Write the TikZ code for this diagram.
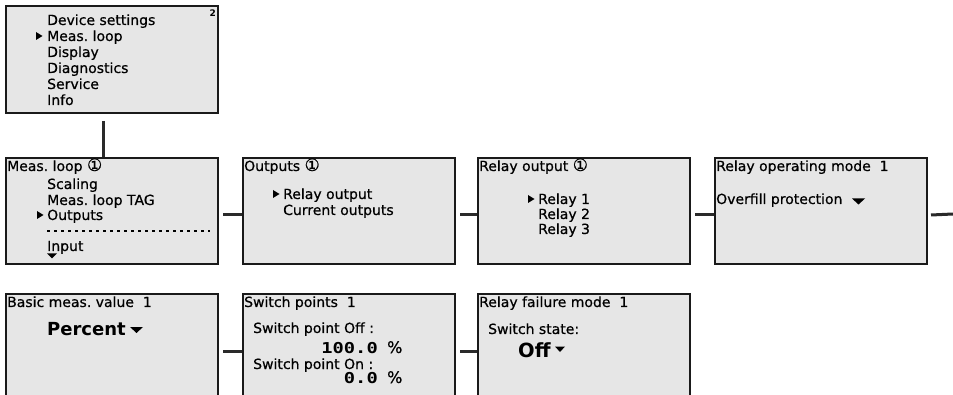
\documentclass[tikz,border=0pt]{standalone}
\usepackage{fontspec}
\setmainfont{DejaVu Sans}[UprightFeatures={FakeBold=0.6}]
\newfontfamily\lcdnum{DejaVu Sans Mono}[FakeStretch=1.25]
\definecolor{lcdbg}{HTML}{E6E6E6}
\definecolor{boxline}{HTML}{1A1A1A}
\definecolor{connc}{HTML}{2A2A2A}
\newcommand{\circone}{{\fontsize{17}{16}\selectfont ①}}
\begin{document}
\begin{tikzpicture}[x=1pt,y=-1pt,
  screen/.style={draw=boxline, fill=lcdbg, line width=2pt, anchor=north west,
    minimum width=212pt, minimum height=106pt, inner sep=0pt},
  txt/.style={anchor=base west, inner sep=0pt, font=\frenchspacing\fontsize{14}{16}\selectfont},
  big/.style={anchor=base west, inner sep=0pt, font=\bfseries\fontsize{18}{20}\selectfont},
  num/.style={anchor=base east, inner sep=0pt, font=\lcdnum\bfseries\fontsize{15}{17}\selectfont},
  conn/.style={draw=connc, line width=3pt},
  cursor/.style={fill=black}]
\useasboundingbox (0,0) rectangle (953,395);
\clip (0,0) rectangle (953,395);

% ---------- boxes ----------
\node[screen, minimum height=107pt] (menu) at (5,5) {};
\node[screen] (b2) at (5,157) {};
\node[screen] (b3) at (242,157) {};
\node[screen] (b4) at (477,157) {};
\node[screen] (b5) at (714,157) {};
\node[screen] (b6) at (5,293) {};
\node[screen] (b7) at (242,293) {};
\node[screen] (b8) at (477,293) {};

% ---------- connectors ----------
\coordinate (rowend) at (953,214);
\draw[conn] ([xshift=98pt,yshift=-7pt]menu.south west) -- ([xshift=98pt]b2.north west);
\draw[conn] ([shift={(4pt,-4pt)}]b2.east) -- ([yshift=-4pt]b3.west);
\draw[conn] ([shift={(4pt,-4pt)}]b3.east) -- ([yshift=-4pt]b4.west);
\draw[conn] ([shift={(4pt,-4pt)}]b4.east) -- ([yshift=-4pt]b5.west);
\draw[conn] ([shift={(3pt,-4pt)}]b5.east) -- (rowend);
\draw[conn] ([shift={(4pt,-4pt)}]b6.east) -- ([yshift=-4pt]b7.west);
\draw[conn] ([shift={(4pt,-4pt)}]b7.east) -- ([yshift=-4pt]b8.west);

% ---------- top menu ----------
\node[txt] (m1) at (47,25) {Device settings};
\fill[cursor] (36,32) -- (42.5,36) -- (36,40) -- cycle;
\node[txt] (m2) at (47,41) {Meas. loop};
\node[txt] (m3) at (47,57) {Display};
\node[txt] (m4) at (47,73) {Diagnostics};
\node[txt] (m5) at (47,89) {Service};
\node[txt] (m6) at (47,105) {Info};
\node[anchor=base west, inner sep=0pt, font=\bfseries\fontsize{9}{9}\selectfont] (mnum) at (209.5,17) {2};

% ---------- Meas. loop ----------
\node[txt] (a0) at (7,171) {Meas. loop \circone};
\node[txt] (a1) at (47,189) {Scaling};
\node[txt] (a2) at (47,205) {Meas. loop TAG};
\fill[cursor] (37,211) -- (43.5,215) -- (37,219) -- cycle;
\node[txt] (a3) at (47,220) {Outputs};
\draw[black, line width=2.5pt, dash pattern=on 2.5pt off 4.5pt] (47,231) -- (210,231);
\node[txt] (a4) at (47,251) {Input};
\fill[cursor] (47,253.5) -- (57,253.5) -- (52,258.5) -- cycle;

% ---------- Outputs ----------
\node[txt] (o0) at (244,171) {Outputs \circone};
\fill[cursor] (273,190) -- (279.5,194) -- (273,198) -- cycle;
\node[txt] (o1) at (283,199) {Relay output};
\node[txt] (o2) at (283,215) {Current outputs};

% ---------- Relay output ----------
\node[txt] (r0) at (479,171) {Relay output \circone};
\fill[cursor] (528,195) -- (534.5,199) -- (528,203) -- cycle;
\node[txt] (r1) at (538,204) {Relay 1};
\node[txt] (r2) at (538,219) {Relay 2};
\node[txt] (r3) at (538,234) {Relay 3};

% ---------- Relay operating mode ----------
\node[txt] (p0) at (716,171) {Relay operating mode\ \ 1};
\node[txt] (p1) at (716,204) {Overfill protection};
\fill[cursor] (852,198.5) -- (865,198.5) -- (858.5,204.5) -- cycle;

% ---------- Basic meas. value ----------
\node[txt] (v0) at (7,307) {Basic meas. value\ \ 1};
\node[big] (v1) at (47,335) {Percent};
\fill[cursor] (130,327) -- (143,327) -- (136.5,333) -- cycle;

% ---------- Switch points ----------
\node[txt] (s0) at (244,307) {Switch points\ \ 1};
\node[txt] (s1) at (253,333) {Switch point Off :};
\node[num] (s2) at (378,353) {100.0};
\node[txt, font=\fontsize{16}{16}\selectfont] (s3) at (387,353) {\%};
\node[txt] (s4) at (253,369) {Switch point On :};
\node[num] (s5) at (378,383) {0.0};
\node[txt, font=\fontsize{16}{16}\selectfont] (s6) at (387,383) {\%};

% ---------- Relay failure mode ----------
\node[txt] (f0) at (479,307) {Relay failure mode\ \ 1};
\node[txt] (f1) at (488,334) {Switch state:};
\node[big, font=\bfseries\fontsize{19.5}{20}\selectfont] (f2) at (518,357) {Off};
\fill[cursor] (555,346.5) -- (565,346.5) -- (560,352) -- cycle;
\end{tikzpicture}
\end{document}
